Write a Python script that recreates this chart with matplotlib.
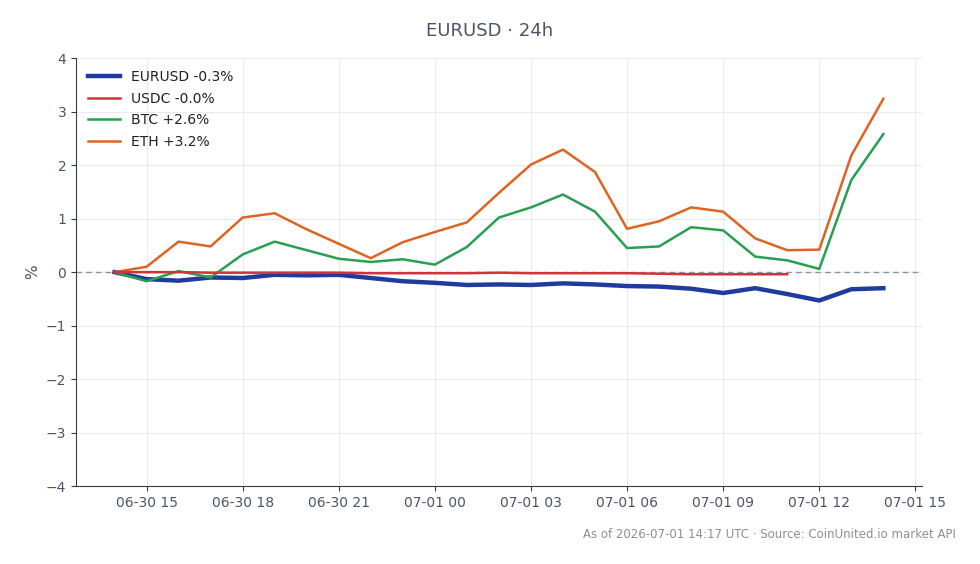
import matplotlib.pyplot as plt
import matplotlib.dates as mdates
import pandas as pd

times = pd.date_range("2026-06-30 14:00", "2026-07-01 14:00", freq="h")

eurusd = [0.0, -0.13, -0.16, -0.10, -0.11, -0.05, -0.06, -0.05, -0.11, -0.17,
          -0.20, -0.24, -0.23, -0.24, -0.21, -0.23, -0.26, -0.27, -0.31, -0.39,
          -0.30, -0.41, -0.53, -0.32, -0.30]
usdc = [0.0, 0.0, 0.0, -0.01, -0.01, -0.01, -0.01, -0.01, -0.02, -0.02,
        -0.02, -0.02, -0.01, -0.02, -0.02, -0.02, -0.02, -0.03, -0.04, -0.04,
        -0.04, -0.04]
btc = [0.0, -0.17, 0.02, -0.10, 0.33, 0.57, 0.41, 0.25, 0.19, 0.24,
       0.14, 0.47, 1.02, 1.21, 1.45, 1.13, 0.45, 0.48, 0.84, 0.78,
       0.29, 0.22, 0.06, 1.72, 2.58]
eth = [0.0, 0.10, 0.57, 0.48, 1.02, 1.10, 0.80, 0.53, 0.26, 0.56,
       0.75, 0.93, 1.48, 2.01, 2.29, 1.87, 0.81, 0.95, 1.21, 1.13,
       0.63, 0.41, 0.42, 2.18, 3.24]

txt = "#4a5568"

fig = plt.figure(figsize=(9.8, 5.64), dpi=100)
ax = fig.add_axes([0.0776, 0.138, 0.863, 0.759])

ax.axhline(0, color="#8a96a8", lw=1, ls=(0, (4, 3)), zorder=1)
ax.plot(times, eurusd, color="#1f3b9c", lw=3.2, label="EURUSD -0.3%", zorder=3)
ax.plot(times[:len(usdc)], usdc, color="#d0333c", lw=1.8, label="USDC -0.0%", zorder=4)
ax.plot(times, btc, color="#27a04f", lw=1.8, label="BTC +2.6%", zorder=3)
ax.plot(times, eth, color="#de6422", lw=1.8, label="ETH +3.2%", zorder=3)

ax.set_ylim(-4, 4)
ax.set_ylabel("%", color=txt, fontsize=11)
ax.xaxis.set_major_locator(mdates.HourLocator(byhour=[0, 3, 6, 9, 12, 15, 18, 21]))
ax.xaxis.set_major_formatter(mdates.DateFormatter("%m-%d %H"))
ax.grid(True, color="#e8ebef", lw=0.8)
ax.set_axisbelow(True)
for s in ["top", "right"]:
    ax.spines[s].set_visible(False)
for s in ["left", "bottom"]:
    ax.spines[s].set_color("#333d4a")
ax.tick_params(axis="both", colors="#333d4a", labelcolor=txt, labelsize=10)

ax.legend(loc="upper left", frameon=False, fontsize=10, labelcolor="#222222",
          handlelength=2.3, borderaxespad=0.45, labelspacing=0.55)

fig.suptitle("EURUSD · 24h", y=0.945, va="center", fontsize=13, color=txt)
fig.text(0.975, 0.053, "As of 2026-07-01 14:17 UTC · Source: CoinUnited.io market API",
         ha="right", va="center", fontsize=8.5, color="#8a8f98")

fig.savefig("out.png")
